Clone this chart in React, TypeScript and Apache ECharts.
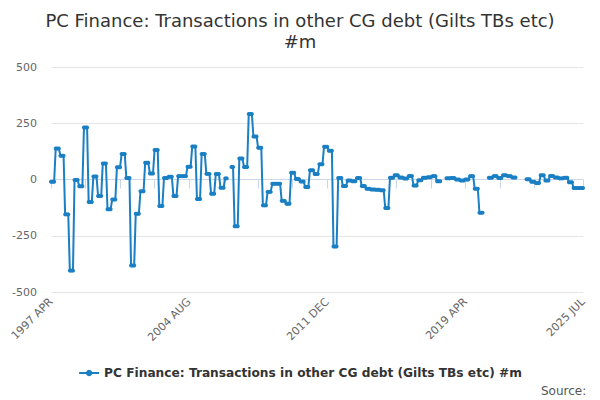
import React, { useEffect, useRef } from "react";
import * as echarts from "echarts";

const MONTHS = ["JAN", "FEB", "MAR", "APR", "MAY", "JUN", "JUL", "AUG", "SEP", "OCT", "NOV", "DEC"];
const START_YEAR = 1997;
const START_MONTH = 3; // APR
const MONTH_COUNT = 340; // 1997 APR .. 2025 JUL

// quarterly values (1997 Q2 .. 2025 Q3), each shown for the quarter's months
const quarterValues: (number | null)[] = [
  -10, 138, 106, -155, -405, -2, -30, 231, -100, 13,
  -73, 71, -132, -89, 54, 113, 7, -382, -152, -52,
  74, 27, 131, -118, 7, 12, -73, 15, 15, 57,
  147, -87, 113, 25, -63, 24, -37, 5, 56, -208,
  93, 56, 291, 191, 141, -115, -55, -19, -19, -95,
  -108, 30, 2, -9, -33, 41, 24, 68, 146, 128,
  -298, 7, -29, -4, -8, 7, -29, -41, -44, -46,
  -48, -127, 8, 19, 9, 4, 16, -27, -3, 8,
  10, 15, -8, null, 6, 7, 0, -4, 0, 15,
  -41, -148, null, 8, 15, 7, 19, 15, 9, null,
  null, 1, -10, -16, 19, -4, 16, 9, 5, 8,
  -12, -38, -38, -38,
];

// months with no value
const missingMonths = ["2006 SEP", "2006 OCT"];

const yMin = -500;
const yMax = 500;
const yInterval = 250;

const seriesName = "PC Finance: Transactions in other CG debt (Gilts TBs etc) #m";
const titleText = "PC Finance: Transactions in other CG debt (Gilts TBs etc)\n#m";
const sourceText = "Source:";

const categories: string[] = [];
for (let i = 0; i < MONTH_COUNT; i++) {
  const m = START_MONTH + i;
  categories.push(`${START_YEAR + Math.floor(m / 12)} ${MONTHS[m % 12]}`);
}

const monthlyValues: (number | null)[] = categories.map((c, i) => {
  if (missingMonths.includes(c)) return null;
  const q = Math.floor(i / 3);
  const v = quarterValues[q];
  return v === undefined ? null : v;
});

export default function App() {
  const ref = useRef<HTMLDivElement>(null);
  useEffect(() => {
    if (!ref.current) return;
    const chart = echarts.init(ref.current, undefined, { renderer: "svg" });
    const last = categories.length - 1;
    chart.setOption({
      animation: false,
      textStyle: { fontFamily: "DejaVu Sans" },
      title: {
        text: titleText,
        left: "center",
        top: 5,
        textStyle: { fontSize: 18, fontWeight: "normal", color: "#333333", lineHeight: 21, fontFamily: "DejaVu Sans" },
      },
      grid: { left: 51, right: 17, top: 67, bottom: 108, containLabel: false },
      legend: {
        bottom: 16,
        left: "center",
        itemWidth: 20,
        itemHeight: 8,
        itemGap: 10,
        textStyle: { fontSize: 12.2, fontWeight: "bold", color: "#333333", fontFamily: "DejaVu Sans" },
        data: [seriesName],
      },
      xAxis: {
        type: "category",
        data: categories,
        boundaryGap: false,
        axisLine: { lineStyle: { color: "#ccd6eb" } },
        axisTick: {
          length: 9,
          lineStyle: { color: "#ccd6eb" },
          interval: (index: number) => (index % 22 === 0 && index <= last - 22) || index === last,
        },
        axisLabel: {
          rotate: 45,
          color: "#666666",
          fontSize: 11,
          margin: 8,
          interval: (index: number) => index % 88 === 0 || index === last,
        },
        splitLine: { show: false },
      },
      yAxis: {
        type: "value",
        min: yMin,
        max: yMax,
        interval: yInterval,
        axisLine: { show: false },
        axisTick: { show: false },
        axisLabel: { color: "#666666", fontSize: 11, margin: 14 },
        splitLine: { lineStyle: { color: "#e6e6e6" } },
      },
      series: [
        {
          name: seriesName,
          type: "line",
          data: monthlyValues,
          connectNulls: false,
          showAllSymbol: true,
          symbol: "circle",
          symbolSize: 4,
          itemStyle: { color: "#1a7fc3" },
          lineStyle: { width: 2, color: "#1a7fc3" },
        },
      ],
      graphic: [
        {
          type: "text",
          left: 541,
          top: 385,
          style: { text: sourceText, fontSize: 12, fill: "#555555", fontFamily: "DejaVu Sans" },
        },
      ],
    });
    return () => chart.dispose();
  }, []);
  return <div ref={ref} style={{ position: "absolute", left: 0, top: 0, width: 600, height: 400 }} />;
}
